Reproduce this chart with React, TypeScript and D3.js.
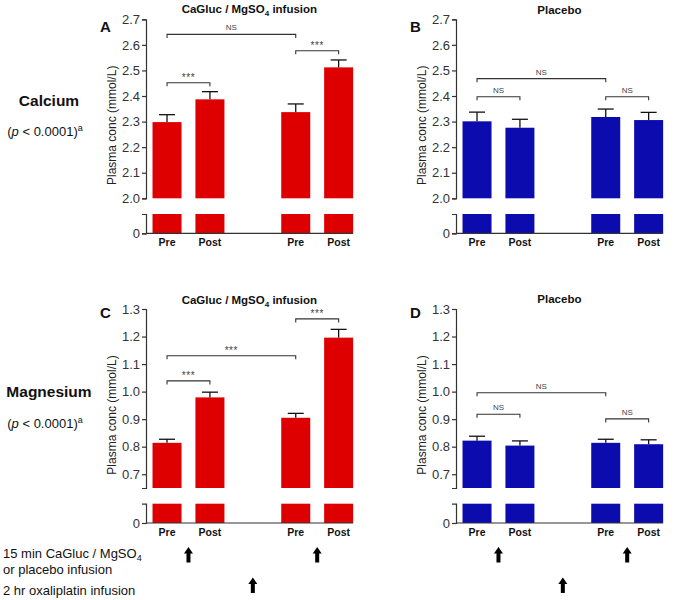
import React, { useEffect, useRef } from "react";
import * as d3 from "d3";

// Time points on the x axis (gap between the two infusion cycles)
const timepoints = ["Pre", "Post", "Pre", "Post"];
const timepointPos = [0, 1, 3, 4];

// Tick labels for the upper (broken) part of the y axes
const calciumTicks = [2.0, 2.1, 2.2, 2.3, 2.4, 2.5, 2.6, 2.7];
const magnesiumTicks = [0.7, 0.8, 0.9, 1.0, 1.1, 1.2, 1.3];

// Means and SEM (mmol/L)
const calciumInfusionMean = [2.298, 2.387, 2.337, 2.512];
const calciumInfusionSem = [0.029, 0.030, 0.032, 0.029];
const calciumPlaceboMean = [2.301, 2.276, 2.318, 2.306];
const calciumPlaceboSem = [0.036, 0.033, 0.031, 0.030];
const magnesiumInfusionMean = [0.814, 0.979, 0.905, 1.196];
const magnesiumInfusionSem = [0.013, 0.019, 0.016, 0.030];
const magnesiumPlaceboMean = [0.822, 0.804, 0.814, 0.809];
const magnesiumPlaceboSem = [0.016, 0.017, 0.013, 0.016];

// Significance brackets: [from index, to index, level, label]
type Bracket = [number, number, number, string];
const calciumInfusionBrackets: Bracket[] = [
  [0, 1, 2.452, "***"],
  [0, 2, 2.641, "NS"],
  [2, 3, 2.577, "***"],
];
const calciumPlaceboBrackets: Bracket[] = [
  [0, 1, 2.397, "NS"],
  [0, 2, 2.468, "NS"],
  [2, 3, 2.397, "NS"],
];
const magnesiumInfusionBrackets: Bracket[] = [
  [0, 1, 1.039, "***"],
  [0, 2, 1.13, "***"],
  [2, 3, 1.264, "***"],
];
const magnesiumPlaceboBrackets: Bracket[] = [
  [0, 1, 0.918, "NS"],
  [0, 2, 0.996, "NS"],
  [2, 3, 0.901, "NS"],
];

const FONT = "'Liberation Sans', Arial, sans-serif";
const RED = "#de0000";
const BLUE = "#0c0cae";

interface Panel {
  letter: string;
  title: "infusion" | "placebo";
  axisX: number;
  top: number;
  yMin: number;
  yMax: number;
  ticks: number[];
  mean: number[];
  sem: number[];
  brackets: Bracket[];
  color: string;
  letterY: number;
  titleY: number;
}

const panels: Panel[] = [
  { letter: "A", title: "infusion", axisX: 146, top: 19.3, yMin: 2.0, yMax: 2.7, ticks: calciumTicks, mean: calciumInfusionMean, sem: calciumInfusionSem, brackets: calciumInfusionBrackets, color: RED, letterY: 32, titleY: 12.5 },
  { letter: "B", title: "placebo", axisX: 456, top: 19.3, yMin: 2.0, yMax: 2.7, ticks: calciumTicks, mean: calciumPlaceboMean, sem: calciumPlaceboSem, brackets: calciumPlaceboBrackets, color: BLUE, letterY: 32, titleY: 13.5 },
  { letter: "C", title: "infusion", axisX: 146, top: 309, yMin: 0.65, yMax: 1.3, ticks: magnesiumTicks, mean: magnesiumInfusionMean, sem: magnesiumInfusionSem, brackets: magnesiumInfusionBrackets, color: RED, letterY: 318, titleY: 304 },
  { letter: "D", title: "placebo", axisX: 456, top: 309, yMin: 0.65, yMax: 1.3, ticks: magnesiumTicks, mean: magnesiumPlaceboMean, sem: magnesiumPlaceboSem, brackets: magnesiumPlaceboBrackets, color: BLUE, letterY: 318, titleY: 303 },
];

const UPPER_H = 179;
const LOWER_TOP = 194.7;
const LOWER_BOTTOM = 214;
const PLOT_W = 206.8;

const App: React.FC = () => {
  const ref = useRef<SVGSVGElement>(null);

  useEffect(() => {
    if (!ref.current) return;
    const svg = d3.select(ref.current);
    svg.selectAll("*").remove();

    panels.forEach((p) => {
      const g = svg.append("g");
      const x = d3.scaleLinear().domain([-0.49, 4.33]).range([p.axisX, p.axisX + PLOT_W]);
      const unit = x(1) - x(0);
      const barW = unit * 0.676;
      const y = d3.scaleLinear().domain([p.yMin, p.yMax]).range([p.top + UPPER_H, p.top]);
      const yLow = d3.scaleLinear().domain([0, 1]).range([p.top + LOWER_BOTTOM, p.top + LOWER_TOP]);

      // Bars, upper part
      g.selectAll("rect.up")
        .data(p.mean)
        .enter()
        .append("rect")
        .attr("x", (_, i) => x(timepointPos[i]) - barW / 2)
        .attr("y", (d) => y(d))
        .attr("width", barW)
        .attr("height", (d) => y(p.yMin) - y(d))
        .attr("fill", p.color);

      // Bars, lower part below the axis break
      g.selectAll("rect.low")
        .data(p.mean)
        .enter()
        .append("rect")
        .attr("x", (_, i) => x(timepointPos[i]) - barW / 2)
        .attr("y", yLow(1))
        .attr("width", barW)
        .attr("height", yLow(0) - yLow(1))
        .attr("fill", p.color);

      // Error bars (upper only)
      p.mean.forEach((m, i) => {
        const cx = x(timepointPos[i]);
        g.append("line")
          .attr("x1", cx).attr("x2", cx)
          .attr("y1", y(m)).attr("y2", y(m + p.sem[i]))
          .attr("stroke", "#111").attr("stroke-width", 1.3);
        g.append("line")
          .attr("x1", cx - 8).attr("x2", cx + 8)
          .attr("y1", y(m + p.sem[i])).attr("y2", y(m + p.sem[i]))
          .attr("stroke", "#111").attr("stroke-width", 1.3);
      });

      // Y axis, upper segment
      const axUp = g.append("g")
        .attr("transform", `translate(${p.axisX},0)`)
        .call(
          d3.axisLeft(y)
            .tickValues(p.ticks)
            .tickFormat((d) => (d as number).toFixed(1))
            .tickSize(4)
            .tickSizeOuter(4)
            .tickPadding(2)
        );
      // Y axis, lower segment
      const axLow = g.append("g")
        .attr("transform", `translate(${p.axisX},0)`)
        .call(
          d3.axisLeft(yLow)
            .tickValues([0])
            .tickFormat(() => "0")
            .tickSize(4)
            .tickSizeOuter(4)
            .tickPadding(2)
        );
      [axUp, axLow].forEach((ax) => {
        ax.attr("font-size", 13).attr("font-family", FONT);
        ax.selectAll("path, line").attr("stroke", "#333").attr("stroke-width", 1.2);
        ax.selectAll("text").attr("fill", "#333");
      });

      // X baseline
      g.append("line")
        .attr("x1", p.axisX)
        .attr("x2", x(timepointPos[3]) + barW / 2)
        .attr("y1", yLow(0)).attr("y2", yLow(0))
        .attr("stroke", "#333").attr("stroke-width", 1.2);

      // Category labels
      g.selectAll("text.cat")
        .data(timepoints)
        .enter()
        .append("text")
        .attr("x", (_, i) => x(timepointPos[i]))
        .attr("y", yLow(0) + 12.5)
        .attr("text-anchor", "middle")
        .attr("font-family", FONT)
        .attr("font-weight", "bold")
        .attr("font-size", 10.5)
        .attr("fill", "#111")
        .text((d) => d);

      // Significance brackets
      p.brackets.forEach(([a, b, lvl, label]) => {
        const x1 = x(timepointPos[a]);
        const x2 = x(timepointPos[b]);
        const yy = y(lvl);
        const stars = label !== "NS";
        g.append("path")
          .attr("d", `M${x1},${yy + 3.5}V${yy}H${x2}V${yy + 3.5}`)
          .attr("fill", "none")
          .attr("stroke", "#333")
          .attr("stroke-width", 1.1);
        g.append("text")
          .attr("x", (x1 + x2) / 2)
          .attr("y", stars ? yy - 1.5 : yy - 4)
          .attr("text-anchor", "middle")
          .attr("font-family", FONT)
          .attr("font-size", stars ? 10 : 8)
          .attr("letter-spacing", stars ? 0.6 : 0)
          .attr("fill", "#444")
          .text(label);
      });

      // Y axis title
      const midY = p.top + LOWER_BOTTOM / 2 - 1;
      g.append("text")
        .attr("transform", `translate(${p.axisX - 34},${midY}) rotate(-90)`)
        .attr("text-anchor", "middle")
        .attr("dominant-baseline", "central")
        .attr("font-family", FONT)
        .attr("font-size", 12)
        .attr("fill", "#222")
        .text("Plasma conc (mmol/L)");

      // Panel letter
      g.append("text")
        .attr("x", p.axisX - 46)
        .attr("y", p.letterY)
        .attr("font-family", FONT)
        .attr("font-weight", "bold")
        .attr("font-size", 15)
        .attr("fill", "#111")
        .text(p.letter);

      // Panel title
      const title = g.append("text")
        .attr("x", (p.axisX + p.axisX + PLOT_W) / 2)
        .attr("y", p.titleY)
        .attr("text-anchor", "middle")
        .attr("font-family", FONT)
        .attr("font-weight", "bold")
        .attr("font-size", 11.5)
        .attr("fill", "#111");
      if (p.title === "infusion") {
        title.append("tspan").text("CaGluc / MgSO");
        title.append("tspan").attr("font-size", 8).attr("dy", 3).text("4");
        title.append("tspan").attr("dy", -3).text(" infusion");
      } else {
        title.text("Placebo");
      }

      // Infusion arrows (only under the bottom row of panels)
      const arrowRow1 = [
        (timepointPos[0] + timepointPos[1]) / 2,
        (timepointPos[2] + timepointPos[3]) / 2,
      ];
      const arrowRow2 = [(timepointPos[1] + timepointPos[2]) / 2];
      if (p.top > 100) {
        const drawArrow = (cx: number, tip: number) => {
          g.append("path")
            .attr(
              "d",
              `M${cx},${tip} L${cx + 4.5},${tip + 6.5} L${cx + 2},${tip + 6.5} L${cx + 2},${tip + 15.5} L${cx - 2},${tip + 15.5} L${cx - 2},${tip + 6.5} L${cx - 4.5},${tip + 6.5} Z`
            )
            .attr("fill", "#000");
        };
        arrowRow1.forEach((v) => drawArrow(x(v), 547));
        arrowRow2.forEach((v) => drawArrow(x(v), 577.5));
      }
    });

    // Row labels
    const rowLabel = (name: string, yName: number, yP: number) => {
      svg.append("text")
        .attr("x", 49).attr("y", yName)
        .attr("text-anchor", "middle")
        .attr("font-family", FONT)
        .attr("font-weight", "bold")
        .attr("font-size", 15.5)
        .attr("fill", "#111")
        .text(name);
      const t = svg.append("text")
        .attr("x", 45).attr("y", yP)
        .attr("text-anchor", "middle")
        .attr("font-family", FONT)
        .attr("font-size", 13)
        .attr("fill", "#111");
      t.append("tspan").text("(");
      t.append("tspan").attr("font-style", "italic").text("p");
      t.append("tspan").text(" < 0.0001)");
      t.append("tspan").attr("font-size", 9).attr("dy", -5).text("a");
    };
    rowLabel("Calcium", 106, 136);
    rowLabel("Magnesium", 397, 428);

    // Bottom annotation
    const note = svg.append("text")
      .attr("x", 3).attr("y", 558)
      .attr("font-family", FONT)
      .attr("font-size", 13)
      .attr("fill", "#111");
    note.append("tspan").text("15 min CaGluc / MgSO");
    note.append("tspan").attr("font-size", 9).attr("dy", 3).text("4");
    svg.append("text")
      .attr("x", 3).attr("y", 574)
      .attr("font-family", FONT)
      .attr("font-size", 13)
      .attr("fill", "#111")
      .text("or placebo infusion");
    svg.append("text")
      .attr("x", 3).attr("y", 595)
      .attr("font-family", FONT)
      .attr("font-size", 13)
      .attr("fill", "#111")
      .text("2 hr oxaliplatin infusion");
  }, []);

  return (
    <svg
      ref={ref}
      width={675}
      height={600}
      style={{ position: "absolute", left: 0, top: 0, background: "#fff" }}
    />
  );
};

export default App;
